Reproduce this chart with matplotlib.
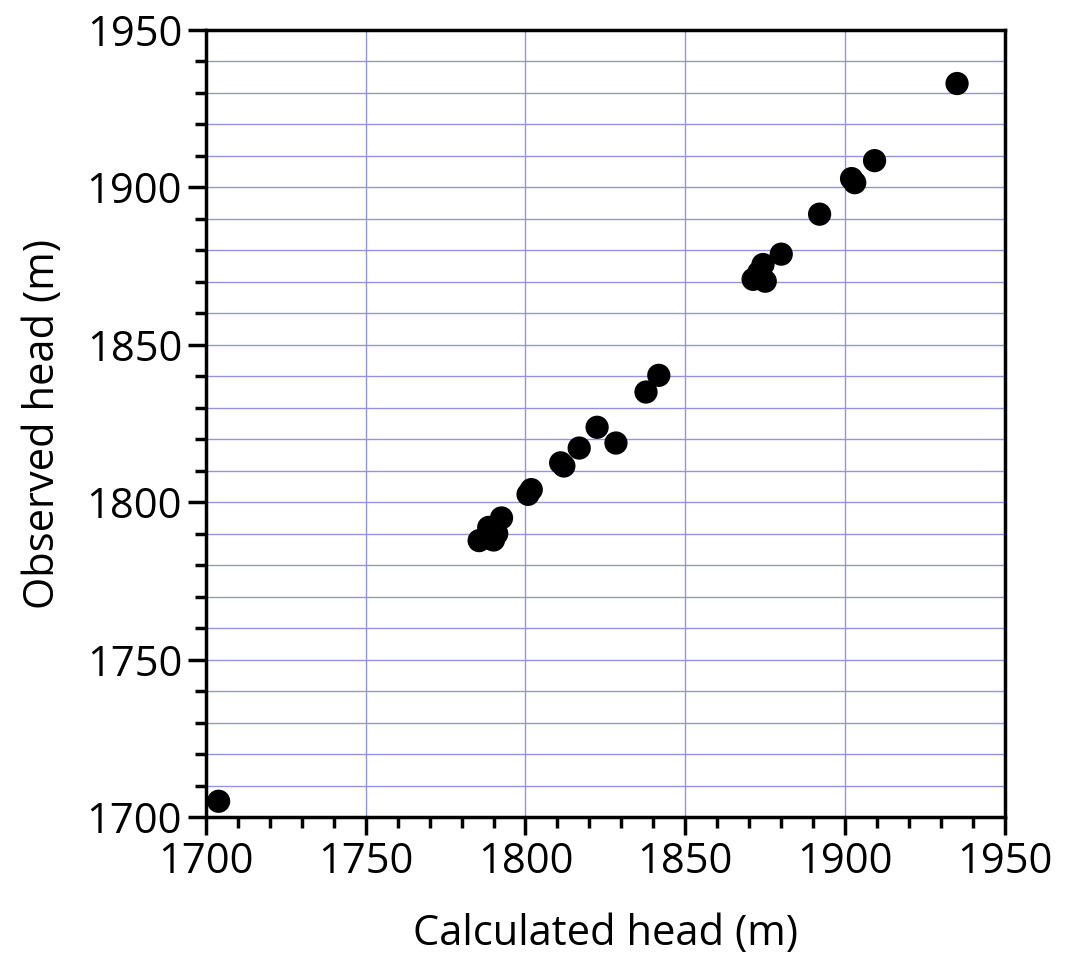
import numpy as np
import matplotlib.pyplot as plt
from matplotlib.ticker import MultipleLocator

calculated_head = [1704.0, 1785.5, 1788.5, 1790.0, 1791.0, 1792.5, 1789.0,
                   1800.8, 1801.8, 1811.0, 1812.0, 1816.8, 1822.4, 1828.3,
                   1837.7, 1841.7, 1871.2, 1874.3, 1875.0, 1873.0, 1880.0,
                   1892.0, 1902.0, 1903.0, 1909.2, 1935.0]
observed_head = [1705.0, 1787.8, 1792.0, 1788.0, 1790.0, 1795.0, 1788.5,
                 1802.5, 1804.0, 1812.5, 1811.5, 1817.2, 1823.8, 1818.8,
                 1835.0, 1840.3, 1870.8, 1875.5, 1870.2, 1873.0, 1878.8,
                 1891.5, 1902.8, 1901.5, 1908.5, 1933.0]

plt.rcParams["font.family"] = ["Open Sans", "DejaVu Sans"]

fig = plt.figure(figsize=(10.72, 9.71), dpi=100)
ax = fig.add_axes([0.192, 0.1586, 0.7455, 0.8105])

grid_color = "#9494dc"
for x in np.arange(1750, 1950, 50):
    ax.axvline(x, color=grid_color, linewidth=1.0, zorder=1)
for y in np.arange(1710, 1950, 10):
    ax.axhline(y, color=grid_color, linewidth=1.0, zorder=1)

ax.scatter(calculated_head, observed_head, s=280, color="black",
           edgecolors="none", zorder=3, clip_on=False)

ax.set_xlim(1700, 1950)
ax.set_ylim(1700, 1950)
ax.xaxis.set_major_locator(MultipleLocator(50))
ax.xaxis.set_minor_locator(MultipleLocator(10))
ax.yaxis.set_major_locator(MultipleLocator(50))
ax.yaxis.set_minor_locator(MultipleLocator(10))

ax.tick_params(which="major", direction="out", length=13, width=2.5,
               labelsize=30, pad=4)
ax.tick_params(which="minor", direction="out", length=8, width=2.5)
for spine in ax.spines.values():
    spine.set_linewidth(2.5)

ax.set_xlabel("Calculated head (m)", fontsize=30, labelpad=22)
ax.set_ylabel("Observed head (m)", fontsize=30, labelpad=16)

fig.savefig("out.png", dpi=100)
